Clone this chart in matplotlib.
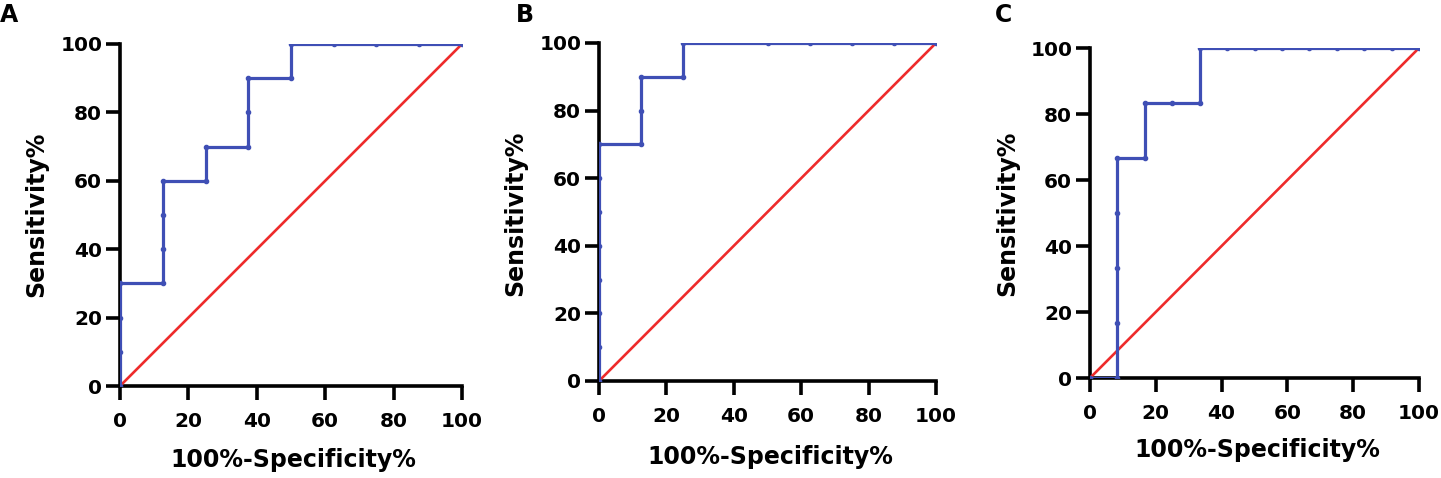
import matplotlib
matplotlib.use("Agg")
import matplotlib.pyplot as plt

plt.rcParams['font.family'] = ['DejaVu Sans']
plt.rcParams['font.weight'] = 'bold'

# Panel A ROC points (100%-Specificity%, Sensitivity%)
a_x = [0, 0, 0, 0, 12.5, 12.5, 12.5, 12.5, 25, 25, 37.5, 37.5, 37.5, 50, 50, 62.5, 75, 87.5, 100]
a_y = [0, 10, 20, 30, 30, 40, 50, 60, 60, 70, 70, 80, 90, 90, 100, 100, 100, 100, 100]

# Panel B
b_x = [0, 0, 0, 0, 0, 0, 0, 0, 12.5, 12.5, 12.5, 25, 25, 50, 62.5, 75, 87.5, 100]
b_y = [0, 10, 20, 30, 40, 50, 60, 70, 70, 80, 90, 90, 100, 100, 100, 100, 100, 100]

# Panel C
c_x = [0, 8.333, 8.333, 8.333, 8.333, 8.333, 16.667, 16.667, 25, 33.333, 33.333,
       41.667, 50, 58.333, 66.667, 75, 83.333, 91.667, 100]
c_y = [0, 0, 16.667, 33.333, 50, 66.667, 66.667, 83.333, 83.333, 83.333, 100,
       100, 100, 100, 100, 100, 100, 100, 100]

ref_line = [0, 100]
ticks = [0, 20, 40, 60, 80, 100]
panel_labels = ['A', 'B', 'C']

W, H = 1441, 478
fig = plt.figure(figsize=(W / 100, H / 100), dpi=100)

# axes boxes in pixels: left, right, y0 (bottom), y100 (top)
boxes = [(120, 462, 386, 44), (599, 936, 381, 43), (1090, 1419, 378, 48)]
letter_pos = [(0, 15), (516, 15), (995, 15)]
xlab_pos = [(293, 460), (770, 457), (1257, 450)]
ylab_pos = [(36, 214), (515, 213), (1007, 213)]
data = [(a_x, a_y), (b_x, b_y), (c_x, c_y)]

blue = '#3F4FB5'
red = '#EE2B2B'

for (l, r, yb, yt), (xs, ys), lab, (lx, ly), (xx, xy), (yx, yy) in zip(
        boxes, data, panel_labels, letter_pos, xlab_pos, ylab_pos):
    w, h = r - l, yb - yt
    ax = fig.add_axes([l / W, (H - yb) / H, w / W, h / H])
    ax.plot(ref_line, ref_line, color=red, lw=1.9, zorder=3)
    ax.plot(xs, ys, color=blue, lw=2.3, marker='o', ms=3.0, zorder=4,
            solid_joinstyle='miter')
    ax.set_xlim(0, 100)
    ax.set_ylim(0, 100)
    ax.set_xticks(ticks)
    ax.set_yticks(ticks)
    for s in ['top', 'right']:
        ax.spines[s].set_visible(False)
    for s in ['left', 'bottom']:
        ax.spines[s].set_linewidth(2.6)
        ax.spines[s].set_color('black')
        ax.spines[s].set_zorder(2)
    ax.tick_params(direction='out', length=9.8, width=2.6, labelsize=14.5, colors='black')
    ax.tick_params(axis='x', pad=9)
    ax.tick_params(axis='y', pad=3)
    for t in ax.get_xticklabels() + ax.get_yticklabels():
        t.set_fontweight('bold')
    ax.set_xlabel('100%-Specificity%', fontsize=17, fontweight='bold', va='center', ha='center')
    ax.set_ylabel('Sensitivity%', fontsize=17, fontweight='bold', va='center', ha='center')
    ax.xaxis.set_label_coords((xx - l) / w, (yb - xy) / h)
    ax.yaxis.set_label_coords((yx - l) / w, (yb - yy) / h)
    fig.text(lx / W, 1 - ly / H, lab, fontsize=17, fontweight='bold', ha='left', va='center')

fig.savefig('out.png', dpi=100)
